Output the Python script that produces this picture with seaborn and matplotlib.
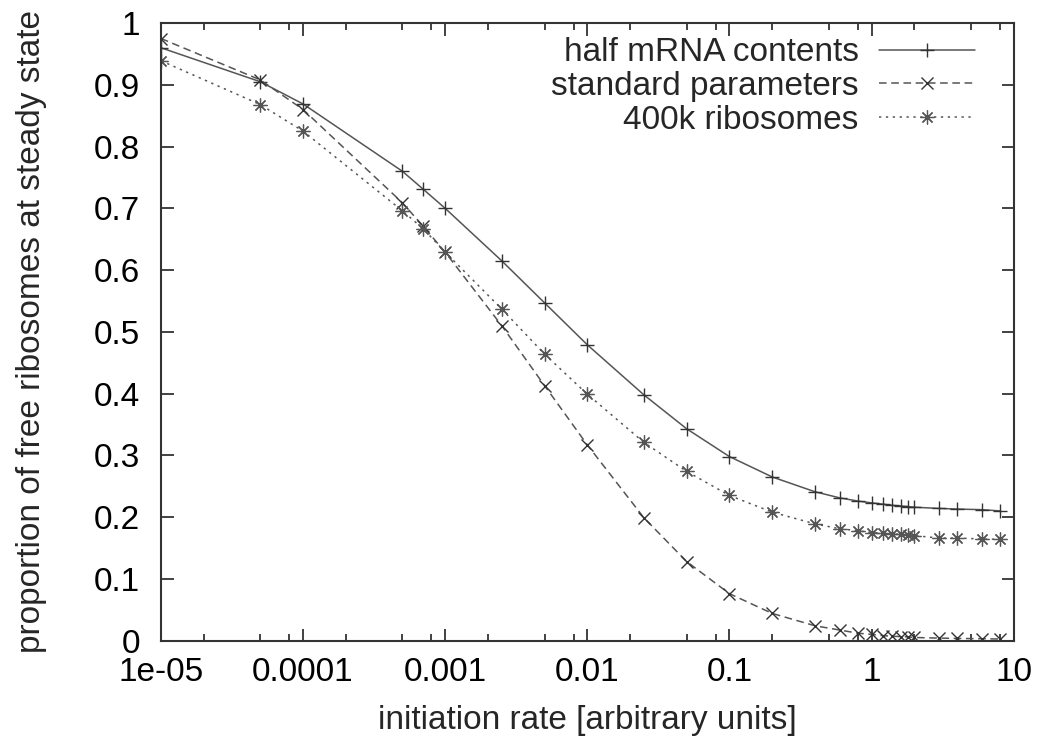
import matplotlib
matplotlib.use("Agg")
import matplotlib.pyplot as plt
from matplotlib.ticker import FixedLocator, FixedFormatter
import seaborn as sns

# initiation rates (shared by all three runs)
rate = [1e-05, 5e-05, 1e-04, 5e-04, 7e-04, 1e-03, 2.5e-03, 5e-03, 1e-02, 2.5e-02,
        5e-02, 0.1, 0.2, 0.4, 0.6, 0.8, 1.0, 1.2, 1.4, 1.6, 1.8, 2.0, 3.0, 4.0, 6.0, 8.0]

half_mrna = [0.960, 0.905, 0.869, 0.760, 0.731, 0.700, 0.615, 0.547, 0.479, 0.398,
             0.343, 0.298, 0.265, 0.241, 0.231, 0.226, 0.223, 0.221, 0.219, 0.218,
             0.217, 0.216, 0.214, 0.213, 0.212, 0.210]
standard = [0.975, 0.908, 0.860, 0.709, 0.671, 0.629, 0.510, 0.413, 0.317, 0.199,
            0.128, 0.076, 0.044, 0.024, 0.017, 0.012, 0.010, 0.008, 0.007, 0.0065,
            0.006, 0.005, 0.004, 0.0035, 0.003, 0.0025]
ribo_400k = [0.939, 0.868, 0.825, 0.696, 0.667, 0.629, 0.537, 0.464, 0.399, 0.321,
             0.274, 0.235, 0.208, 0.189, 0.181, 0.178, 0.175, 0.174, 0.1726, 0.172,
             0.171, 0.170, 0.166, 0.166, 0.1645, 0.164]

labels = ["half mRNA contents", "standard parameters", "400k ribosomes"]

xtick_vals = [1e-05, 1e-04, 1e-03, 1e-02, 0.1, 1, 10]
xtick_labels = ["1e-05", "0.0001", "0.001", "0.01", "0.1", "1", "10"]
ytick_vals = [0, 0.1, 0.2, 0.3, 0.4, 0.5, 0.6, 0.7, 0.8, 0.9, 1]
ytick_labels = ["0", "0.1", "0.2", "0.3", "0.4", "0.5", "0.6", "0.7", "0.8", "0.9", "1"]

sns.set_style("ticks")
plt.rcParams['font.family'] = ['Liberation Sans', 'DejaVu Sans']
fs = 24

fig, ax = plt.subplots(figsize=(10.45, 7.44), dpi=100)
fig.subplots_adjust(left=0.154, right=0.970, bottom=0.139, top=0.969)

col = "#555555"
sns.lineplot(x=rate, y=half_mrna, ax=ax, color=col, lw=1.1, ls="-",
             marker="+", markersize=10, mew=1.0, mec="#333333", label=labels[0])
sns.lineplot(x=rate, y=standard, ax=ax, color=col, lw=1.1, dashes=(5, 3),
             marker="x", markersize=9, mew=1.0, mec="#333333", label=labels[1])
sns.lineplot(x=rate, y=ribo_400k, ax=ax, color=col, lw=1.1, dashes=(1.5, 3),
             marker=(8, 2, 0), markersize=10, mew=0.9, mec="#555555", label=labels[2])

ax.set_xscale("log")
ax.set_xlim(1e-05, 10)
ax.set_ylim(0, 1)

ax.xaxis.set_major_locator(FixedLocator(xtick_vals))
ax.xaxis.set_major_formatter(FixedFormatter(xtick_labels))
minor = [m * 10.0 ** e for e in range(-5, 1) for m in (2, 5, 8)]
ax.xaxis.set_minor_locator(FixedLocator(minor))
ax.xaxis.set_minor_formatter(FixedFormatter([""] * len(minor)))
ax.yaxis.set_major_locator(FixedLocator(ytick_vals))
ax.yaxis.set_major_formatter(FixedFormatter(ytick_labels))

ax.tick_params(which="both", direction="in", top=True, right=True,
               colors="#333333", labelcolor="black", labelsize=fs, width=1.3)
ax.tick_params(axis="x", which="major", length=9, pad=12)
ax.tick_params(axis="y", which="major", length=9, pad=15)
ax.tick_params(which="minor", length=5)
for s in ax.spines.values():
    s.set_visible(True)
    s.set_color("#333333")
    s.set_linewidth(1.5)

ax.set_xlabel("initiation rate [arbitrary units]", fontsize=fs, labelpad=12)
ax.set_ylabel("proportion of free ribosomes at steady state", fontsize=fs, labelpad=34)

leg = ax.legend(loc="upper right", bbox_to_anchor=(0.955, 0.977), frameon=False,
                markerfirst=False, fontsize=fs, handlelength=2.9, handletextpad=0.6,
                labelspacing=0.08, borderaxespad=0.0, borderpad=0.0, numpoints=1)

fig.savefig("out.png", dpi=100)
